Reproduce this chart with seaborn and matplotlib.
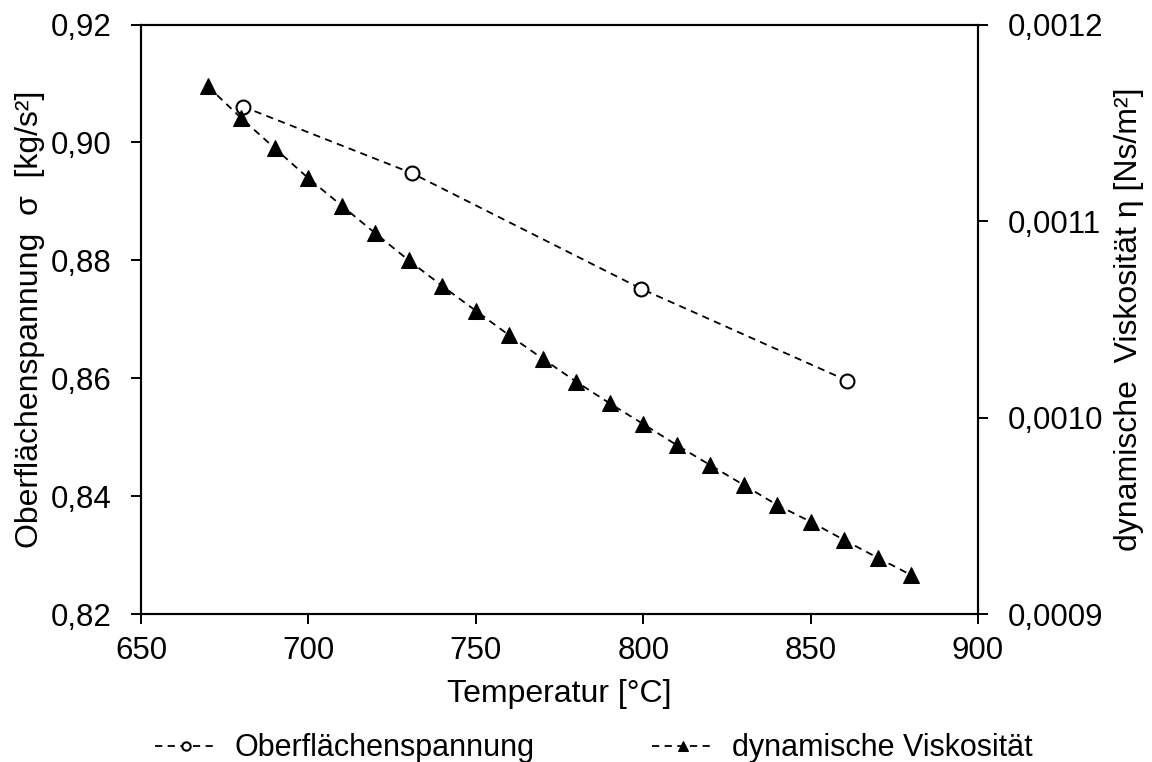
import numpy as np
import pandas as pd
import matplotlib
matplotlib.use("Agg")
import matplotlib.pyplot as plt
from matplotlib.ticker import FuncFormatter
import seaborn as sns

sns.set_theme(style="ticks")
plt.rcParams['font.family'] = ['Liberation Sans', 'DejaVu Sans']
plt.rcParams['text.color'] = 'black'
plt.rcParams['axes.labelcolor'] = 'black'

# Oberflächenspannung (left axis)
temp_sigma = [680.4, 730.9, 799.4, 861.0]
sigma = [0.9061, 0.8948, 0.8752, 0.8596]

# dynamische Viskosität (right axis)
temp_eta = [670, 680, 690, 700, 710, 720, 730, 740, 750, 760, 770,
            780, 790, 800, 810, 820, 830, 840, 850, 860, 870, 880]
eta = [0.0011685, 0.0011523, 0.0011370, 0.0011218, 0.0011078, 0.0010938,
       0.0010800, 0.0010670, 0.0010544, 0.0010419, 0.0010300, 0.0010183,
       0.0010073, 0.0009968, 0.0009861, 0.0009759, 0.0009658, 0.0009556,
       0.0009471, 0.0009378, 0.0009288, 0.0009200]

x_ticks = [650, 700, 750, 800, 850, 900]
y_ticks = [0.82, 0.84, 0.86, 0.88, 0.90, 0.92]
y2_ticks = [0.0009, 0.0010, 0.0011, 0.0012]

df_sigma = pd.DataFrame({'T': temp_sigma, 'sigma': sigma})
df_eta = pd.DataFrame({'T': temp_eta, 'eta': eta})

fs_tick = 22.5
fs_lab = 23
fs_leg = 22
fig = plt.figure(figsize=(11.52, 7.62), dpi=100)
ax = fig.add_axes([0.1224, 0.1938, 0.7266, 0.774])
ax2 = ax.twinx()

sns.lineplot(data=df_sigma, x='T', y='sigma', ax=ax, color='black',
             linewidth=1.3, marker='o', markersize=10,
             markerfacecolor='white', markeredgecolor='black', markeredgewidth=1.5,
             label='Oberflächenspannung', legend=False)
sns.lineplot(data=df_eta, x='T', y='eta', ax=ax2, color='black',
             linewidth=1.3, marker='^', markersize=11,
             markerfacecolor='black', markeredgecolor='black',
             label='dynamische Viskosität', legend=False)
# dashed like the original
for ln in ax.lines + ax2.lines:
    ln.set_linestyle((0, (4, 3)))

ax.set_xlim(650, 900)
ax.set_ylim(0.82, 0.92)
ax2.set_ylim(0.0009, 0.0012)
ax.set_xticks(x_ticks)
ax.set_yticks(y_ticks)
ax2.set_yticks(y2_ticks)
ax.yaxis.set_major_formatter(FuncFormatter(lambda v, p: f"{v:.2f}".replace('.', ',')))
ax2.yaxis.set_major_formatter(FuncFormatter(lambda v, p: f"{v:.4f}".replace('.', ',')))

for a in (ax, ax2):
    a.tick_params(axis='both', labelsize=fs_tick, length=7.3, width=1.4, direction='out',
                  colors='black')
    a.tick_params(axis='y', pad=14)
    for s in a.spines.values():
        s.set_linewidth(1.5)
        s.set_color('black')
ax.tick_params(axis='x', pad=8.5)

ax.set_xlabel('Temperatur [°C]', fontsize=fs_lab, labelpad=9)
ax.set_ylabel('Oberflächenspannung  σ  [kg/s²]', fontsize=fs_lab, labelpad=4)
ax2.set_ylabel('dynamische  Viskosität η [Ns/m²]', fontsize=fs_lab, labelpad=8)

h1, l1 = ax.get_legend_handles_labels()
h2, l2 = ax2.get_legend_handles_labels()
fig.legend(h1 + h2, l1 + l2, loc='center left', bbox_to_anchor=(0.1346, 0.018), ncol=2,
           frameon=False, fontsize=fs_leg, markerscale=0.6, handlelength=2.0,
           handletextpad=0.6, columnspacing=3.85, borderpad=0, borderaxespad=0)

plt.savefig('out.png', dpi=100)
